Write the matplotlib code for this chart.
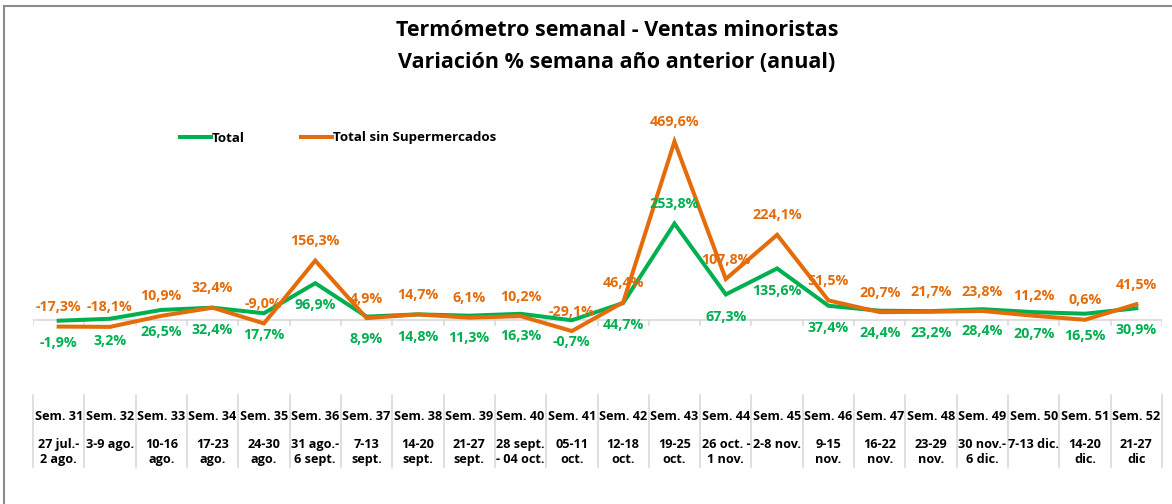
import matplotlib.pyplot as plt
from matplotlib.lines import Line2D

plt.rcParams['font.family'] = ['Open Sans', 'DejaVu Sans']

# semanas y rangos de fechas
semanas = ['Sem. 31', 'Sem. 32', 'Sem. 33', 'Sem. 34', 'Sem. 35', 'Sem. 36',
           'Sem. 37', 'Sem. 38', 'Sem. 39', 'Sem. 40', 'Sem. 41', 'Sem. 42',
           'Sem. 43', 'Sem. 44', 'Sem. 45', 'Sem. 46', 'Sem. 47', 'Sem. 48',
           'Sem. 49', 'Sem. 50', 'Sem. 51', 'Sem. 52']
fechas = ['27 jul.-\n2 ago.', '3-9 ago.\n', '10-16\nago.', '17-23\nago.',
          '24-30\nago.', '31 ago.-\n6 sept.', '7-13\nsept.', '14-20\nsept.',
          '21-27\nsept.', '28 sept.\n- 04 oct.', '05-11\noct.', '12-18\noct.',
          '19-25\noct.', '26 oct. -\n1 nov.', '2-8 nov.\n', '9-15\nnov.',
          '16-22\nnov.', '23-29\nnov.', '30 nov.-\n6 dic.', '7-13 dic.\n',
          '14-20\ndic.', '21-27\ndic']

# variación % anual
total = [-1.9, 3.2, 26.5, 32.4, 17.7, 96.9, 8.9, 14.8, 11.3, 16.3, -0.7,
         44.7, 253.8, 67.3, 135.6, 37.4, 24.4, 23.2, 28.4, 20.7, 16.5, 30.9]
sin_super = [-17.3, -18.1, 10.9, 32.4, -9.0, 156.3, 4.9, 14.7, 6.1, 10.2, -29.1,
             46.4, 469.6, 107.8, 224.1, 51.5, 20.7, 21.7, 23.8, 11.2, 0.6, 41.5]

VERDE = '#00B050'
NARANJA = '#E46C0A'
W, H = 1172, 504
X0, AW = 33, 1129  # borde izquierdo y ancho del área de trazado (px)

fig = plt.figure(figsize=(W / 100, H / 100), dpi=100)
ax = fig.add_axes([X0 / W, 1 - 396 / H, AW / W, 304 / H])
x = list(range(len(semanas)))

ax.plot(x, total, color=VERDE, lw=2.9, solid_joinstyle='miter', label='Total', zorder=3)
ax.plot(x, sin_super, color=NARANJA, lw=2.9, solid_joinstyle='miter',
        label='Total sin Supermercados', zorder=3)

ax.set_xlim(-0.5, len(semanas) - 0.5)
ax.set_ylim(-200, 600)
ax.axis('off')

# eje de categorías en cero
ax.axhline(0, color='#D9D9D9', lw=1.2, zorder=1)
for b in range(len(semanas) + 1):
    ax.plot([b - 0.5, b - 0.5], [0, -13], color='#D9D9D9', lw=1.2, zorder=1)

# etiquetas de datos
verde_arriba = {12}
for i in x:
    ax.annotate(f'{sin_super[i]:.1f}%'.replace('.', ','), (i, sin_super[i]),
                xytext=(0, 14), textcoords='offset points', ha='center', va='center',
                color=NARANJA, fontsize=10.3, fontweight='bold', zorder=4)
    dy = 14 if i in verde_arriba else -16
    ax.annotate(f'{total[i]:.1f}%'.replace('.', ','), (i, total[i]),
                xytext=(0, dy), textcoords='offset points', ha='center', va='center',
                color=VERDE, fontsize=10.3, fontweight='bold', zorder=4)

# tabla de categorías abajo
col = AW / len(semanas)
for b in range(len(semanas) + 1):
    fig.add_artist(Line2D([(X0 + b * col) / W] * 2, [1 - 395 / H, 1 - 467 / H],
                          color='#D9D9D9', lw=1.2))
for i in x:
    cx = (X0 + (i + 0.5) * col) / W
    fig.text(cx, 1 - 416 / H, semanas[i], ha='center', va='center',
             fontsize=9.1, fontweight='bold')
    fig.text(cx, 1 - 452 / H, fechas[i], ha='center', va='center',
             fontsize=9.1, fontweight='bold', linespacing=1.15)

ax.legend(loc='center left', bbox_to_anchor=(135 / AW, (396 - 138) / 304), ncol=2,
          frameon=False, handlelength=2.3, handletextpad=0.1,
          columnspacing=4.2, prop={'weight': 'bold', 'size': 9.6})

fig.text(617 / W, 1 - 31 / H, 'Termómetro semanal - Ventas minoristas',
         ha='center', va='center', fontsize=15.5, fontweight='bold')
fig.text(617 / W, 1 - 63 / H, 'Variación % semana año anterior (anual)',
         ha='center', va='center', fontsize=15.5, fontweight='bold')

# borde del gráfico
fig.add_artist(Line2D([4 / W, 4 / W], [0, 1 - 6 / H], color='#8C8C8C', lw=1.5))
fig.add_artist(Line2D([4 / W, 1], [1 - 6 / H, 1 - 6 / H], color='#8C8C8C', lw=1.5))

fig.savefig('out.png', dpi=100)
